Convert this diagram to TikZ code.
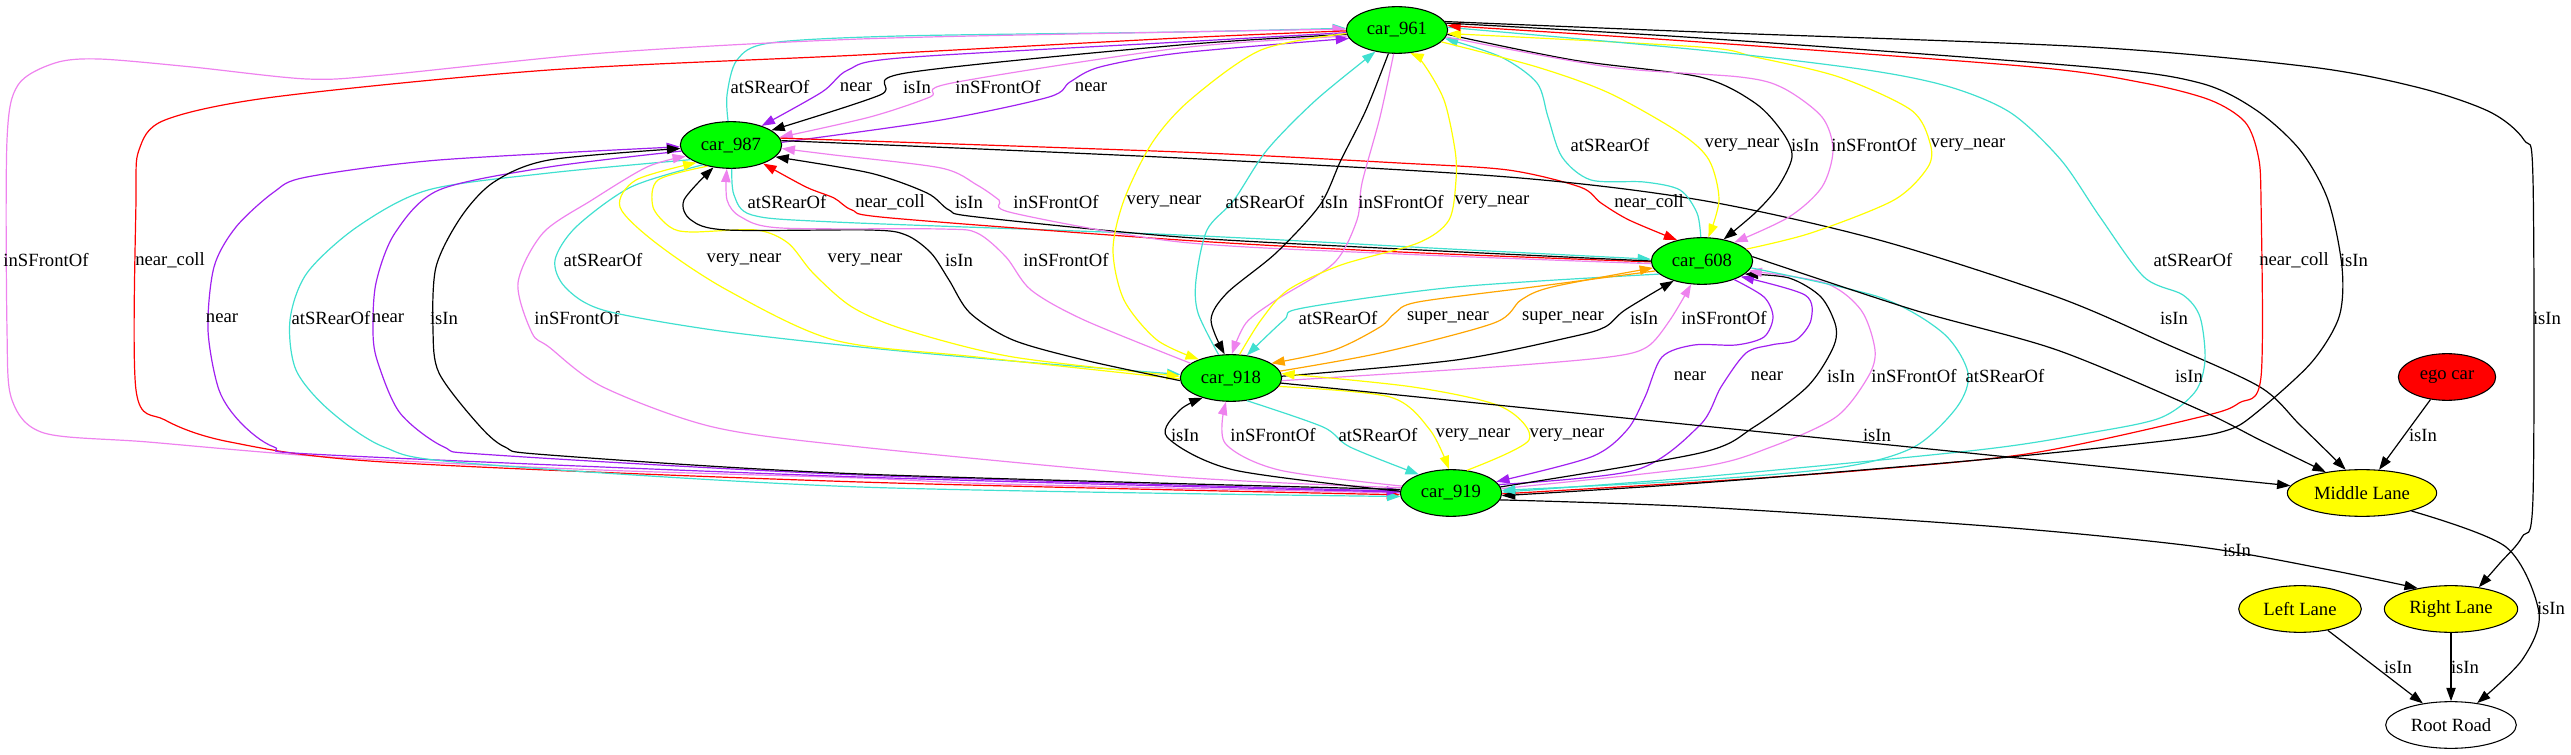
\documentclass[tikz,border=0pt]{standalone}
\usepackage{fontspec}
\setmainfont{Liberation Serif}
\usetikzlibrary{shapes.geometric, arrows.meta}

\definecolor{turq}{HTML}{40E0D0}
\definecolor{purp}{HTML}{A020F0}
\definecolor{viol}{HTML}{EE82EE}
\definecolor{amar}{HTML}{FFFF00}
\definecolor{naranja}{HTML}{FFA500}
\definecolor{verde}{HTML}{00FF00}

\begin{document}
\begin{tikzpicture}[x=0.75pt, y=-0.75pt,
    every node/.style={font=\fontsize{14}{16}\selectfont},
    car/.style={ellipse, draw, line width=0.8pt, fill=verde, minimum width=76pt, minimum height=35pt, inner sep=0pt},
    lane/.style={ellipse, draw, line width=0.8pt, fill=amar, minimum height=35pt, inner sep=0pt},
    egonode/.style={ellipse, draw, line width=0.8pt, fill=red, minimum width=73pt, minimum height=35pt, inner sep=0pt},
    road/.style={ellipse, draw, line width=0.8pt, fill=white, minimum width=98pt, minimum height=35pt, inner sep=0pt},
    lbl/.style={inner sep=0pt},
    rel/.style={line width=0.9pt, -{Triangle[length=10pt,width=7pt]}},
    rear/.style={rel, draw=turq},
    front/.style={rel, draw=viol},
    nearc/.style={rel, draw=purp},
    isin/.style={rel, draw=black},
    vnear/.style={rel, draw=amar},
    coll/.style={rel, draw=red},
    snear/.style={rel, draw=naranja}]
\useasboundingbox (0,0) rectangle (2571,755);

% Nodos
\node[car] (c961) at (1397,30) {car\_961};
\node[car] (c987) at (731,145) {car\_987};
\node[car] (c608) at (1702,261) {car\_608};
\node[car] (c918) at (1231,378) {car\_918};
\node[car] (c919) at (1451,493) {car\_919};
\node[egonode] (ego) at (2447,377) {ego car};
\node[lane, minimum width=112pt] (ML) at (2362,493) {Middle Lane};
\node[lane, minimum width=92pt] (LL) at (2300,609) {Left Lane};
\node[lane, minimum width=100pt] (RL) at (2451,609) {Right Lane};
\node[road] (RR) at (2451,725) {Root Road};

% car_961 y car_987
\draw[rear] plot[smooth] coordinates {(c987.97) (727,95) (737,60) (770,43) (900,36) (1180,32) (c961.178)} node[lbl,at={(770,87)}] (l01) {atSRearOf};
\draw[nearc] plot[smooth] coordinates {(c961.183) (1180,42) (900,58) (848,70) (822,92) (c987.32)} node[lbl,at={(856,87)}] (l02) {near};
\draw[isin] plot[smooth] coordinates {(c961.185) (1180,45) (906,73) (880,95) (c987.20)} node[lbl,at={(917,87)}] (l03) {isIn};
\draw[front] plot[smooth] coordinates {(c961.187) (1180,48) (952,83) (930,97) (870,117) (c987.9)} node[lbl,at={(998,87)}] (l04) {inSFrontOf};
\draw[nearc] plot[smooth] coordinates {(c987.3) (941,120) (1049,97) (1070,82) (1100,67) (1180,53) (c961.190)} node[lbl,at={(1091,87)}] (l05) {near};

% Aristas largas por la izquierda
\draw[front] plot[smooth] coordinates {(c919.180) (1000,484) (860,478) (600,470) (329,457) (148,442) (44,433) (12,400) (7,330) (7,140) (18,85) (55,63) (99,59) (192,67) (307,79) (384,75) (603,53) (860,39) (1180,32) (c961.179)} node[lbl,at={(46,260)}] (l06) {inSFrontOf};
\draw[coll] plot[smooth] coordinates {(c961.181) (1180,38) (860,55) (549,70) (274,97) (165,120) (139,150) (136,200) (136,390) (165,420) (230,442) (384,462) (860,482) (c919.182)} node[lbl,at={(170,260)}] (l07) {near\_coll};

% car_987 y car_919
\draw[nearc] plot[smooth] coordinates {(c919.179) (860,477) (329,455) (274,447) (241,423) (219,390) (208,330) (214,267) (236,227) (274,192) (307,177) (439,160) (c987.182)} node[lbl,at={(222,318)}] (l08) {near};
\draw[rear] plot[smooth] coordinates {(c987.200) (549,173) (428,190) (357,227) (307,273) (290,320) (296,370) (329,410) (384,447) (466,463) (860,487) (c919.184)} node[lbl,at={(331,318)}] (l09) {atSRearOf};
\draw[nearc] plot[smooth] coordinates {(c987.187) (549,167) (439,190) (395,233) (376,283) (373,333) (378,363) (400,413) (444,447) (494,455) (860,475) (c919.178)} node[lbl,at={(388,318)}] (l10) {near};
\draw[isin] plot[smooth] coordinates {(c919.176) (860,474) (549,455) (505,447) (477,423) (439,373) (433,330) (436,267) (461,217) (494,182) (549,160) (c987.184)} node[lbl,at={(444,318)}] (l11) {isIn};
\draw[front] plot[smooth] coordinates {(c919.174) (1179,477) (860,447) (713,427) (603,387) (549,347) (532,333) (518,283) (543,233) (592,200) (647,167) (c987.194)} node[lbl,at={(577,318)}] (l12) {inSFrontOf};

% car_987 y car_918
\draw[rear] plot[smooth] coordinates {(c987.215) (631,187) (576,227) (555,260) (565,287) (603,310) (713,330) (860,347) (1000,360) (c918.176)} node[lbl,at={(603,260)}] (l13) {atSRearOf};
\draw[vnear] plot[smooth] coordinates {(c918.181) (977,357) (834,340) (727,290) (656,243) (620,207) (636,180) (c987.207)} node[lbl,at={(744,260)}] (l14) {very\_near};
\draw[vnear] plot[smooth] coordinates {(c987.222) (658,180) (653,207) (670,227) (691,232) (756,230) (788,243) (813,273) (852,307) (906,330) (1013,357) (c918.178)} node[lbl,at={(865,260)}] (l15) {very\_near};
\draw[isin] plot[smooth] coordinates {(c918.183) (1084,360) (1013,340) (970,313) (949,280) (931,253) (906,235) (870,230) (727,230) (691,220) (684,200) (c987.232)} node[lbl,at={(959,260)}] (l16) {isIn};
\draw[front] plot[smooth] coordinates {(c918.160) (1084,320) (1031,290) (1006,257) (977,233) (941,229) (781,228) (741,217) (727,200) (c987.260)} node[lbl,at={(1066,260)}] (l17) {inSFrontOf};

% car_987 y car_608
\draw[rear] plot[smooth] coordinates {(c987.272) (734,195) (752,215) (834,222) (1180,235) (1450,249) (c608.178)} node[lbl,at={(787,202)}] (l18) {atSRearOf};
\draw[coll] plot[smooth] coordinates {(c608.181) (1400,252) (1180,240) (891,218) (852,210) (834,198) (806,187) (c987.330)} node[lbl,at={(890,202)}] (l19) {near\_coll};
\draw[isin] plot[smooth] coordinates {(c608.180) (1400,249) (1180,237) (977,217) (949,210) (927,193) (870,173) (c987.345)} node[lbl,at={(969,202)}] (l20) {isIn};
\draw[front] plot[smooth] coordinates {(c608.183) (1400,254) (1180,242) (1013,213) (999,200) (977,185) (941,168) (834,155) (c987.356)} node[lbl,at={(1056,202)}] (l21) {inSFrontOf};
\draw[coll] plot[smooth] coordinates {(c987.8) (1180,152) (1399,163) (1508,170) (1580,187) (1601,203) (1629,220) (c608.140)} node[lbl,at={(1649,202)}] (l22) {near\_coll};
\draw[isin] plot[smooth] coordinates {(c987.5) (1180,158) (1508,177) (1700,200) (1879,240) (2057,297) (2164,343) (2260,387) (2300,425) (ML.125)} node[lbl,at={(2174,318)}] (l23) {isIn};

% car_961 y car_918
\draw[vnear] plot[smooth] coordinates {(c961.184) (1261,50) (1190,100) (1152,143) (1124,200) (1113,250) (1124,300) (1157,340) (c918.150)} node[lbl,at={(1164,202)}] (l24) {very\_near};
\draw[rear] plot[smooth] coordinates {(c918.118) (1198,313) (1196,280) (1207,230) (1234,200) (1267,150) (1316,100) (c961.225)} node[lbl,at={(1265,202)}] (l25) {atSRearOf};
\draw[isin] plot[smooth] coordinates {(c961.250) (1366,110) (1341,160) (1320,205) (1276,253) (1227,293) (1211,320) (c918.105)} node[lbl,at={(1334,202)}] (l26) {isIn};
\draw[front] plot[smooth] coordinates {(c961.262) (1380,117) (1362,183) (1357,220) (1334,263) (1276,300) (1246,323) (c918.88)} node[lbl,at={(1401,202)}] (l27) {inSFrontOf};
\draw[vnear] plot[smooth] coordinates {(c918.70) (1261,320) (1288,290) (1341,265) (1418,243) (1449,220) (1456,180) (1455,150) (1444,100) (1423,63) (c961.300)} node[lbl,at={(1492,202)}] (l28) {very\_near};

% car_961 y car_608
\draw[rear] plot[smooth] coordinates {(c608.93) (1697,213) (1680,190) (1644,182) (1591,180) (1562,157) (1548,117) (1537,83) (1501,57) (c961.350)} node[lbl,at={(1610,145)}] (l29) {atSRearOf};
\draw[vnear] plot[smooth] coordinates {(c961.345) (1537,67) (1609,93) (1680,133) (1709,160) (1719,200) (c608.75)} node[lbl,at={(1742,145)}] (l30) {very\_near};
\draw[isin] plot[smooth] coordinates {(c961.355) (1573,60) (1700,77) (1755,103) (1783,133) (1792,157) (1778,187) (1755,213) (c608.45)} node[lbl,at={(1805,145)}] (l31) {isIn};
\draw[front] plot[smooth] coordinates {(c961.352) (1609,67) (1740,77) (1783,88) (1822,117) (1833,150) (1822,187) (1789,217) (c608.30)} node[lbl,at={(1874,145)}] (l32) {inSFrontOf};
\draw[vnear] plot[smooth] coordinates {(c608.15) (1811,233) (1894,200) (1928,167) (1930,143) (1911,110) (1839,77) (1755,57) (1700,47) (c961.356)} node[lbl,at={(1968,145)}] (l33) {very\_near};

% Aristas largas por la derecha
\draw[rear] plot[smooth] coordinates {(c961.3) (1700,50) (1867,70) (1950,87) (2011,113) (2061,160) (2100,217) (2144,277) (2183,295) (2200,317) (2205,360) (2195,392) (2160,418) (2089,433) (1978,450) (1700,477) (c919.1)} node[lbl,at={(2193,260)}] (l34) {atSRearOf};
\draw[coll] plot[smooth] coordinates {(c919.359) (1700,482) (1867,470) (2033,453) (2200,417) (2239,403) (2261,377) (2261,200) (2258,155) (2245,122) (2210,100) (2144,83) (2033,67) (1700,42) (c961.5)} node[lbl,at={(2294,260)}] (l35) {near\_coll};
\draw[isin] plot[smooth] coordinates {(c961.8) (1700,38) (2089,67) (2200,83) (2256,110) (2300,150) (2328,200) (2342,267) (2339,317) (2311,363) (2256,413) (2228,430) (2172,440) (1978,460) (1700,483) (c919.357)} node[lbl,at={(2354,260)}] (l36) {isIn};
\draw[isin] plot[smooth] coordinates {(c961.10) (1700,32) (2089,47) (2311,67) (2420,88) (2490,112) (2524,140) (2533,180) (2533,497) (2522,537) (2500,563) (RL.38)} node[lbl,at={(2547,318)}] (l37) {isIn};

% car_608 y car_918
\draw[rear] plot[smooth] coordinates {(c608.197) (1456,287) (1303,308) (1284,320) (c918.55)} node[lbl,at={(1338,318)}] (l38) {atSRearOf};
\draw[snear] plot[smooth] coordinates {(c608.192) (1533,287) (1418,302) (1395,313) (1380,327) (1334,350) (c918.20)} node[lbl,at={(1448,318)}] (l39) {super\_near};
\draw[snear] plot[smooth] coordinates {(c918.8) (1380,353) (1494,323) (1521,300) (1552,287) (c608.188)} node[lbl,at={(1563,318)}] (l40) {super\_near};
\draw[isin] plot[smooth] coordinates {(c918.2) (1456,360) (1571,337) (1605,327) (1625,310) (c608.215)} node[lbl,at={(1644,318)}] (l41) {isIn};
\draw[front] plot[smooth] coordinates {(c918.357) (1494,367) (1609,357) (1647,347) (1670,320) (c608.245)} node[lbl,at={(1724,318)}] (l42) {inSFrontOf};

% car_608 y car_919
\draw[nearc] plot[smooth] coordinates {(c608.330) (1764,297) (1773,317) (1764,337) (1736,345) (1694,345) (1662,357) (1645,397) (1627,430) (1591,457) (c919.14)} node[lbl,at={(1690,376)}] (l43) {near};
\draw[nearc] plot[smooth] coordinates {(c919.10) (1636,470) (1700,425) (1721,387) (1746,353) (1771,345) (1796,340) (1811,320) (1805,295) (c608.338)} node[lbl,at={(1767,376)}] (l44) {near};
\draw[isin] plot[smooth] coordinates {(c919.7) (1700,453) (1754,427) (1807,387) (1832,350) (1836,327) (1821,297) (1789,278) (c608.343)} node[lbl,at={(1841,376)}] (l45) {isIn};
\draw[front] plot[smooth] coordinates {(c919.5) (1700,467) (1771,447) (1836,417) (1868,377) (1875,350) (1861,310) (1825,283) (c608.348)} node[lbl,at={(1914,376)}] (l46) {inSFrontOf};
\draw[rear] plot[smooth] coordinates {(c608.352) (1879,297) (1943,333) (1968,373) (1957,407) (1914,447) (1843,467) (1700,480) (c919.3)} node[lbl,at={(2005,376)}] (l47) {atSRearOf};
\draw[isin] plot[smooth] coordinates {(c608.5) (1914,310) (2057,350) (2200,410) (2260,440) (ML.150)} node[lbl,at={(2189,376)}] (l48) {isIn};

% car_918 y car_919
\draw[isin] plot[smooth] coordinates {(c919.178) (1234,470) (1167,437) (1180,410) (c918.215)} node[lbl,at={(1185,435)}] (l49) {isIn};
\draw[front] plot[smooth] coordinates {(c919.172) (1279,470) (1225,443) (c918.258)} node[lbl,at={(1273,435)}] (l50) {inSFrontOf};
\draw[rear] plot[smooth] coordinates {(c918.305) (1323,427) (1350,447) (c919.150)} node[lbl,at={(1378,435)}] (l51) {atSRearOf};
\draw[vnear] plot[smooth] coordinates {(c918.350) (1390,397) (1430,430) (c919.95)} node[lbl,at={(1473,435)}] (l52) {very\_near};
\draw[vnear] plot[smooth] coordinates {(c919.55) (1529,440) (1502,407) (1413,387) (c918.5)} node[lbl,at={(1567,435)}] (l53) {very\_near};

% Carriles
\draw[isin] (c918) -- (ML) node[lbl,at={(1877,435)}] (l54) {isIn};
\draw[isin] (ego) -- (ML) node[lbl,at={(2423,435)}] (l55) {isIn};
\draw[isin] plot[smooth] coordinates {(c919.352) (1700,507) (2000,527) (2200,547) (2330,570) (RL.148)} node[lbl,at={(2237,550)}] (l56) {isIn};
\draw[isin] plot[smooth] coordinates {(ML.340) (2506,547) (2539,613) (2522,660) (RR.40)} node[lbl,at={(2551,608)}] (l57) {isIn};
\draw[isin] (LL) -- (RR) node[lbl,at={(2398,667)}] (l58) {isIn};
\draw[isin] (RL) -- (RR) node[lbl,at={(2465,667)}] (l59) {isIn};
\end{tikzpicture}
\end{document}
